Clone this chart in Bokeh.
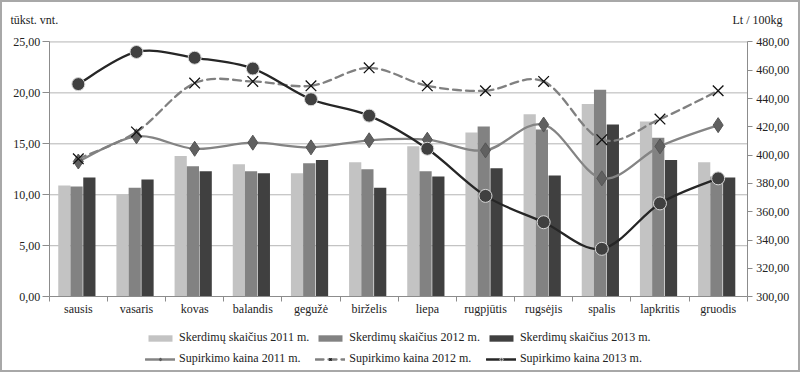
from bokeh.plotting import figure
from bokeh.models import Range1d, LinearAxis, FixedTicker, Legend, LegendItem, Label
from bokeh.embed import file_html
from bokeh.resources import INLINE

months = ["sausis", "vasaris", "kovas", "balandis", "gegužė", "birželis",
          "liepa", "rugpjūtis", "rugsėjis", "spalis", "lapkritis", "gruodis"]
sk2011 = [10.9, 10.05, 13.8, 13.0, 12.1, 13.2, 14.75, 16.1, 17.9, 18.9, 17.2, 13.2]
sk2012 = [10.8, 10.7, 12.8, 12.3, 13.1, 12.5, 12.3, 16.7, 16.4, 20.3, 15.6, 11.8]
sk2013 = [11.7, 11.5, 12.3, 12.1, 13.4, 10.7, 11.8, 12.6, 11.9, 16.9, 13.4, 11.7]
kaina2011 = [395.5, 413.3, 404.5, 408.8, 405.5, 410.5, 410.9, 403.4, 421.6, 383.6, 406.2, 421.2]
kaina2012 = [397.4, 416.4, 450.9, 452.1, 449.0, 461.7, 449.0, 445.5, 452.1, 410.9, 425.5, 445.5]
kaina2013 = [450.2, 472.9, 468.8, 461.2, 439.5, 427.9, 404.5, 371.2, 352.6, 333.8, 365.9, 383.6]
left_ticks = [0, 5, 10, 15, 20, 25]
left_labels = ["0,00", "5,00", "10,00", "15,00", "20,00", "25,00"]
right_ticks = [300, 320, 340, 360, 380, 400, 420, 440, 460, 480]
right_labels = ["300,00", "320,00", "340,00", "360,00", "380,00", "400,00",
                "420,00", "440,00", "460,00", "480,00"]

FONT = "Liberation Serif"
n = len(months)
xc = [i + 0.5 for i in range(n)]
L_MIN, L_MAX = left_ticks[0], left_ticks[-1]
R_MIN, R_MAX = right_ticks[0], right_ticks[-1]

# layout geometry (page pixels); the canvas sits inside a 2px border
W, H, BORDER = 800, 372, 2
CW, CH = W - 2 * BORDER, H - 2 * BORDER
AX_L, AX_R, AX_T, AX_B = 48.5, 743.0, 41.0, 293.0
sx = (AX_R - AX_L) / n
sy = (AX_B - AX_T) / (L_MAX - L_MIN)
sp = (AX_B - AX_T) / (R_MAX - R_MIN)
x0 = (BORDER - AX_L) / sx
y1 = L_MIN + (AX_B - BORDER) / sy
p1 = R_MIN + (AX_B - BORDER) / sp

p = figure(width=W, height=H,
           x_range=Range1d(x0, x0 + CW / sx), y_range=Range1d(y1 - CH / sy, y1),
           output_backend="svg", toolbar_location=None,
           min_border=0, min_border_left=0, min_border_right=0, min_border_top=0, min_border_bottom=0,
           x_axis_type=None, y_axis_type=None)
p.extra_y_ranges = {"price": Range1d(p1 - CH / sp, p1)}
p.outline_line_color = None
p.xgrid.visible = False
p.ygrid.visible = False
p.styles = {"border": "2px solid #a8a8a8", "box-sizing": "border-box"}

# axes, pinned to the data extent
xaxis = LinearAxis(ticker=FixedTicker(ticks=xc, minor_ticks=list(range(n + 1))),
                   major_label_overrides={x: m for x, m in zip(xc, months)},
                   fixed_location=L_MIN, bounds=(0, n))
xaxis.major_tick_out = 0
xaxis.major_tick_in = 0
xaxis.minor_tick_out = 5
xaxis.minor_tick_in = 0
xaxis.major_label_standoff = 0
p.add_layout(xaxis, "below")

yaxis = LinearAxis(ticker=FixedTicker(ticks=left_ticks, minor_ticks=[]),
                   major_label_overrides={t: l for t, l in zip(left_ticks, left_labels)},
                   fixed_location=0, bounds=(L_MIN, L_MAX))
yaxis.major_tick_out = 7
yaxis.major_tick_in = 0
yaxis.major_label_standoff = 2
p.add_layout(yaxis, "left")

raxis = LinearAxis(y_range_name="price", ticker=FixedTicker(ticks=right_ticks, minor_ticks=[]),
                   major_label_overrides={t: l for t, l in zip(right_ticks, right_labels)},
                   fixed_location=n, bounds=(R_MIN, R_MAX))
raxis.major_tick_out = 5
raxis.major_tick_in = 0
raxis.major_label_standoff = 4
p.add_layout(raxis, "right")

for ax in (xaxis, yaxis, raxis):
    ax.axis_line_color = "#8c8c8c"
    ax.major_tick_line_color = "#8c8c8c"
    ax.minor_tick_line_color = "#8c8c8c"
    ax.major_label_text_font = FONT
    ax.major_label_text_font_size = "12px"
    ax.major_label_text_color = "#222222"

# horizontal gridlines at the left-axis ticks
p.segment(x0=0, x1=n, y0=left_ticks[1:], y1=left_ticks[1:], line_color="#b4b4b4", line_width=1)

# bars
off = [-0.24, -0.03, 0.19]
w = 0.21
b1 = p.vbar(x=[c + off[0] for c in xc], top=sk2011, width=w, fill_color="#c3c3c3", line_color=None)
b2 = p.vbar(x=[c + off[1] for c in xc], top=sk2012, width=w, fill_color="#828282", line_color=None)
b3 = p.vbar(x=[c + off[2] for c in xc], top=sk2013, width=w, fill_color="#404040", line_color=None)


def smooth(vals, **kw):
    pts = list(zip(xc, vals))
    m = len(pts)
    d = dict(x0=[], y0=[], x1=[], y1=[], cx0=[], cy0=[], cx1=[], cy1=[])
    for i in range(m - 1):
        pa = pts[max(i - 1, 0)]
        pb = pts[i]
        pc = pts[i + 1]
        pd = pts[min(i + 2, m - 1)]
        d["x0"].append(pb[0]); d["y0"].append(pb[1])
        d["x1"].append(pc[0]); d["y1"].append(pc[1])
        d["cx0"].append(pb[0] + (pc[0] - pa[0]) / 6); d["cy0"].append(pb[1] + (pc[1] - pa[1]) / 6)
        d["cx1"].append(pc[0] - (pd[0] - pb[0]) / 6); d["cy1"].append(pc[1] - (pd[1] - pb[1]) / 6)
    return p.bezier(y_range_name="price", line_cap="round", **d, **kw)


l1 = smooth(kaina2011, line_color="#848484", line_width=2.3)
s1 = p.scatter(xc, kaina2011, marker="diamond", size=15, fill_color="#606060",
               line_color="#555555", y_range_name="price")
l2 = smooth(kaina2012, line_color="#808080", line_width=2.3, line_dash="8 5")
s2 = p.scatter(xc, kaina2012, marker="x", size=15, line_color="#111111", line_width=1.3,
               y_range_name="price")
l3 = smooth(kaina2013, line_color="#262626", line_width=2.3)
s3 = p.scatter(xc, kaina2013, marker="circle", size=13, fill_color="#404040",
               line_color="#d8d8d8", line_width=1, y_range_name="price")

legend = Legend(items=[
    LegendItem(label="Skerdimų skaičius 2011 m.", renderers=[b1]),
    LegendItem(label="Skerdimų skaičius 2012 m.", renderers=[b2]),
    LegendItem(label="Skerdimų skaičius 2013 m.", renderers=[b3]),
    LegendItem(label="Supirkimo kaina 2011 m.", renderers=[l1, s1]),
    LegendItem(label="Supirkimo kaina 2012 m.", renderers=[l2, s2]),
    LegendItem(label="Supirkimo kaina 2013 m.", renderers=[l3, s3]),
], location=(143, 8), orientation="horizontal", ncols=3)
legend.padding = 0
legend.margin = 0
legend.border_line_color = None
legend.background_fill_alpha = 0
legend.glyph_width = 30
legend.glyph_height = 8
legend.label_height = 14
legend.label_standoff = 4
legend.spacing = 6
legend.label_text_font = FONT
legend.label_text_font_size = "12px"
legend.label_text_color = "#222222"
p.add_layout(legend, "center")

p.add_layout(Label(x=8, y=355, x_units="screen", y_units="screen", text="tūkst. vnt.",
                   text_font=FONT, text_font_size="12px", text_baseline="middle",
                   text_color="#222222"))
p.add_layout(Label(x=780, y=355, x_units="screen", y_units="screen", text="Lt / 100kg",
                   text_font=FONT, text_font_size="12px", text_baseline="middle",
                   text_align="right", text_color="#222222"))

open("out.html", "w").write(file_html(p, INLINE))
